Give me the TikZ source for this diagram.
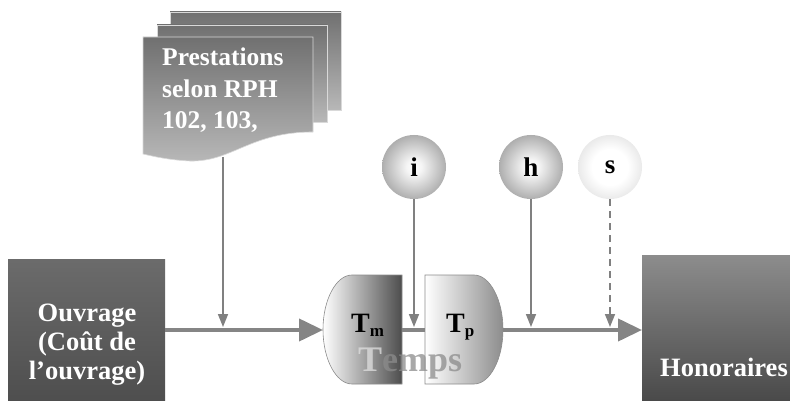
\documentclass[tikz,border=0pt]{standalone}
\usepackage{fontspec}
\setmainfont{Liberation Serif}
\usetikzlibrary{arrows.meta}
\pgfdeclareradialshading{balldark}{\pgfpoint{0bp}{0bp}}{color(0bp)=(white); color(6bp)=(white!96!black); color(28bp)=(black!36); color(46bp)=(black!52); color(50bp)=(black!56)}
\pgfdeclareradialshading{balllight}{\pgfpoint{0bp}{0bp}}{color(0bp)=(white); color(14bp)=(white); color(46bp)=(black!24); color(50bp)=(black!28)}
\begin{document}
\begin{tikzpicture}[x=1pt,y=-1pt,
  lbl/.style={text=white, inner sep=0pt},
  mainline/.style={draw=black!48, line width=4pt},
  mainarrow/.style={mainline, -{Triangle[width=22pt,length=24pt]}},
  feed/.style={draw=black!50, line width=1.6pt, -{Triangle[width=10pt,length=13pt]}},
  ball/.style={circle, minimum size=64pt, inner sep=0pt, font=\bfseries\fontsize{27}{27}\selectfont},
  sheet/.style={draw=white!85!black, line width=0.6pt, top color=black!56, bottom color=black!28},
  half/.style={draw=black!45, line width=0.6pt},
  tlabel/.style={anchor=base west, inner sep=0pt, font=\bfseries\fontsize{28}{28}\selectfont},
]
\useasboundingbox[fill=white] (0,0) rectangle (790,401);

% document stack
\path[sheet] (170,12) rectangle (341,110);
\path[sheet] (157,25) rectangle (327,122);
\path[sheet] (143,37) -- (313,37) -- (313,132) .. controls (250,132) and (232,162) .. (190,161) .. controls (168,160) and (152,156) .. (143,154) -- cycle;
\coordinate (docbot) at (223,157);
\node[lbl, anchor=north west, align=left, font=\bfseries\fontsize{25.5}{31.5}\selectfont] (prest) at (162,48) {Prestations\\selon RPH\\102, 103,};

% boxes
\node[anchor=north west, inner sep=0pt, minimum width=157pt, minimum height=150pt, top color=black!58, bottom color=black!70] (ouv) at (8,259) {};
\node[lbl, anchor=north, align=center, font=\bfseries\fontsize{26.5}{29}\selectfont] (ouvtxt) at (87,304) {Ouvrage\\(Coût de\\l’ouvrage)};
\node[anchor=north west, inner sep=0pt, minimum width=160pt, minimum height=150pt, top color=black!45, bottom color=black!72] (hon) at (642,255) {};
\node[lbl, anchor=base, font=\bfseries\fontsize{26.5}{26.5}\selectfont] (hontxt) at (724,376) {Honoraires};

% Tm and Tp
\path[half, left color=white, middle color=black!15, right color=black!70]
  (402,275) -- (352,275) .. controls (336,275) and (323,300) .. (323,329.5) .. controls (323,359) and (336,384) .. (352,384) -- (402,384) -- cycle;
\path[half, left color=white, middle color=black!10, right color=black!45]
  (425,275) -- (474,275) .. controls (490,275) and (503,300) .. (503,329.5) .. controls (503,359) and (490,384) .. (474,384) -- (425,384) -- cycle;
\coordinate (tmW) at (323,330);
\coordinate (tmE) at (402,330);
\coordinate (tpW) at (425,330);
\coordinate (tpE) at (503,330);
\node[tlabel] (tm) at (351,332) {T\raisebox{-4pt}{\fontsize{17}{17}\selectfont m}};
\node[tlabel] (tp) at (446,332) {T\raisebox{-4pt}{\fontsize{17}{17}\selectfont p}};
\node[anchor=base west, inner sep=0pt, font=\bfseries\fontsize{36}{36}\selectfont, text=black!45, text opacity=0.75] (temps) at (358,371) {{\color{black!12}T}emps};

% main flow
\draw[mainarrow] (ouv.east |- tmW) -- (tmW);
\draw[mainline] (tmE) -- (tpW);
\draw[mainarrow] (tpE) -- (hon.west |- tpE);

% parameters
\node[ball, shading=balldark] (i) at (414,167) {i};
\node[ball, shading=balldark] (h) at (531,167) {h};
\node[ball, shading=balllight] (s) at (610,167) {s};

\coordinate (jd) at (223,327);
\coordinate (ji) at (414,327);
\coordinate (jh) at (531,327);
\coordinate (js) at (610,327);
\draw[feed] (docbot) -- (jd);
\draw[feed] (i.south) -- (ji);
\draw[feed] (h.south) -- (jh);
\draw[feed, dash pattern=on 7pt off 5pt] (s.south) -- (js);
\end{tikzpicture}
\end{document}
